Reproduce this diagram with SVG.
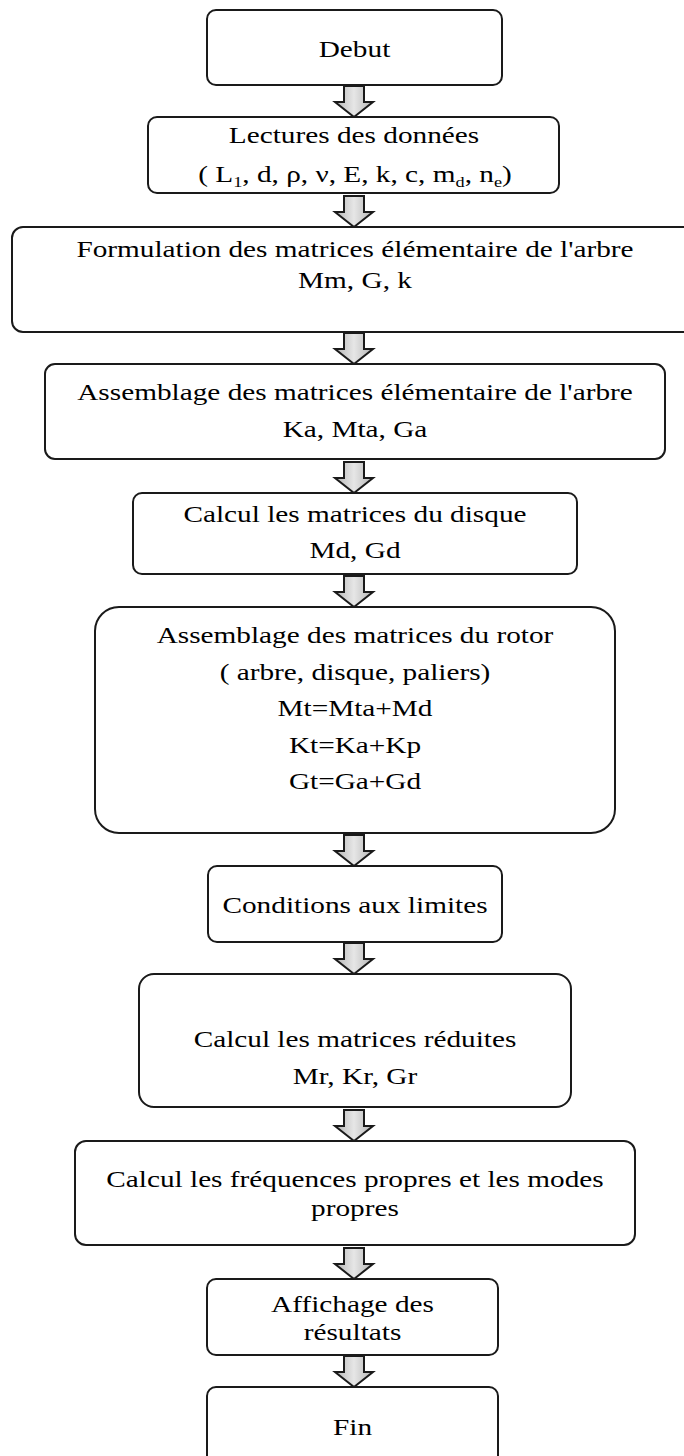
<svg xmlns="http://www.w3.org/2000/svg" xmlns:xlink="http://www.w3.org/1999/xlink" width="684" height="1456" viewBox="0 0 684 1456">
<style>
.box{fill:#fff;stroke:#1a1a1a;stroke-width:2}
.t{font-family:"Liberation Serif","Times New Roman",serif;font-size:24px;fill:#000;text-anchor:middle}
.arr{fill:url(#g);stroke:#1a1a1a;stroke-width:2;stroke-linejoin:miter}
</style>
<defs>
<linearGradient id="g" x1="0" y1="0" x2="1" y2="0">
<stop offset="0" stop-color="#b4b4b4"/>
<stop offset="0.5" stop-color="#e6e6e6"/>
<stop offset="1" stop-color="#b4b4b4"/>
</linearGradient>
<path id="arrow" class="arr" d="M-10 0 H10 V16 H19 L0 31 L-19 16 H-10 Z"/>
</defs>
<rect width="684" height="1456" fill="#fff"/>
<g id="connectors">
<use xlink:href="#arrow" x="354" y="86"/>
<use xlink:href="#arrow" x="354" y="196"/>
<use xlink:href="#arrow" x="354" y="333"/>
<use xlink:href="#arrow" x="354" y="462"/>
<use xlink:href="#arrow" x="354" y="576"/>
<use xlink:href="#arrow" x="354" y="835"/>
<use xlink:href="#arrow" x="354" y="943"/>
<use xlink:href="#arrow" x="354" y="1110"/>
<use xlink:href="#arrow" x="354" y="1248"/>
<use xlink:href="#arrow" x="354" y="1356"/>
</g>
<g id="n1"><rect class="box" x="207" y="10" width="295" height="75" rx="9"/><text class="t" transform="matrix(1.22 0 0 1 354.5 57)">Debut</text></g>
<g id="n2"><rect class="box" x="148" y="117" width="411" height="76" rx="9"/>
<text class="t" transform="matrix(1.22 0 0 1 354 143)">Lectures des données</text>
<text class="t" transform="matrix(1.22 0 0 1 355 182)">( L<tspan font-size="15" dy="5">1</tspan><tspan dy="-5">, d, ρ, ν, E, k, c, m</tspan><tspan font-size="15" dy="5">d</tspan><tspan dy="-5">, n</tspan><tspan font-size="15" dy="5">e</tspan><tspan dy="-5">)</tspan></text></g>
<g id="n3"><rect class="box" x="12" y="227" width="700" height="105" rx="11"/>
<text class="t" transform="matrix(1.22 0 0 1 355 257)">Formulation des matrices élémentaire de l'arbre</text>
<text class="t" transform="matrix(1.22 0 0 1 355 288)">Mm, G, k</text></g>
<g id="n4"><rect class="box" x="45" y="364" width="620" height="95" rx="10"/>
<text class="t" transform="matrix(1.22 0 0 1 355 400)">Assemblage des matrices élémentaire de l'arbre</text>
<text class="t" transform="matrix(1.22 0 0 1 355 437)">Ka, Mta, Ga</text></g>
<g id="n5"><rect class="box" x="133" y="493" width="444" height="81" rx="9"/>
<text class="t" transform="matrix(1.22 0 0 1 355 522)">Calcul les matrices du disque</text>
<text class="t" transform="matrix(1.22 0 0 1 355 558)">Md, Gd</text></g>
<g id="n6"><rect class="box" x="95" y="607" width="520" height="226" rx="24"/>
<text class="t" transform="matrix(1.22 0 0 1 355 643)">Assemblage des matrices du rotor</text>
<text class="t" transform="matrix(1.22 0 0 1 355 680)">( arbre, disque, paliers)</text>
<text class="t" transform="matrix(1.22 0 0 1 355 716)">Mt=Mta+Md</text>
<text class="t" transform="matrix(1.22 0 0 1 355 753)">Kt=Ka+Kp</text>
<text class="t" transform="matrix(1.22 0 0 1 355 789)">Gt=Ga+Gd</text></g>
<g id="n7"><rect class="box" x="208" y="866" width="294" height="76" rx="9"/>
<text class="t" transform="matrix(1.22 0 0 1 355 913)">Conditions aux limites</text></g>
<g id="n8"><rect class="box" x="139" y="974" width="432" height="133" rx="15"/>
<text class="t" transform="matrix(1.22 0 0 1 355 1047)">Calcul les matrices réduites</text>
<text class="t" transform="matrix(1.22 0 0 1 355 1084)">Mr, Kr, Gr</text></g>
<g id="n9"><rect class="box" x="75" y="1141" width="560" height="104" rx="11"/>
<text class="t" transform="matrix(1.22 0 0 1 355 1187)">Calcul les fréquences propres et les modes</text>
<text class="t" transform="matrix(1.22 0 0 1 355 1216)">propres</text></g>
<g id="n10"><rect class="box" x="207" y="1279" width="291" height="76" rx="9"/>
<text class="t" transform="matrix(1.22 0 0 1 352.5 1312)">Affichage des</text>
<text class="t" transform="matrix(1.22 0 0 1 352.5 1340)">résultats</text></g>
<g id="n11"><rect class="box" x="207" y="1387" width="291" height="90" rx="9"/>
<text class="t" transform="matrix(1.22 0 0 1 352.5 1435)">Fin</text></g>
</svg>
